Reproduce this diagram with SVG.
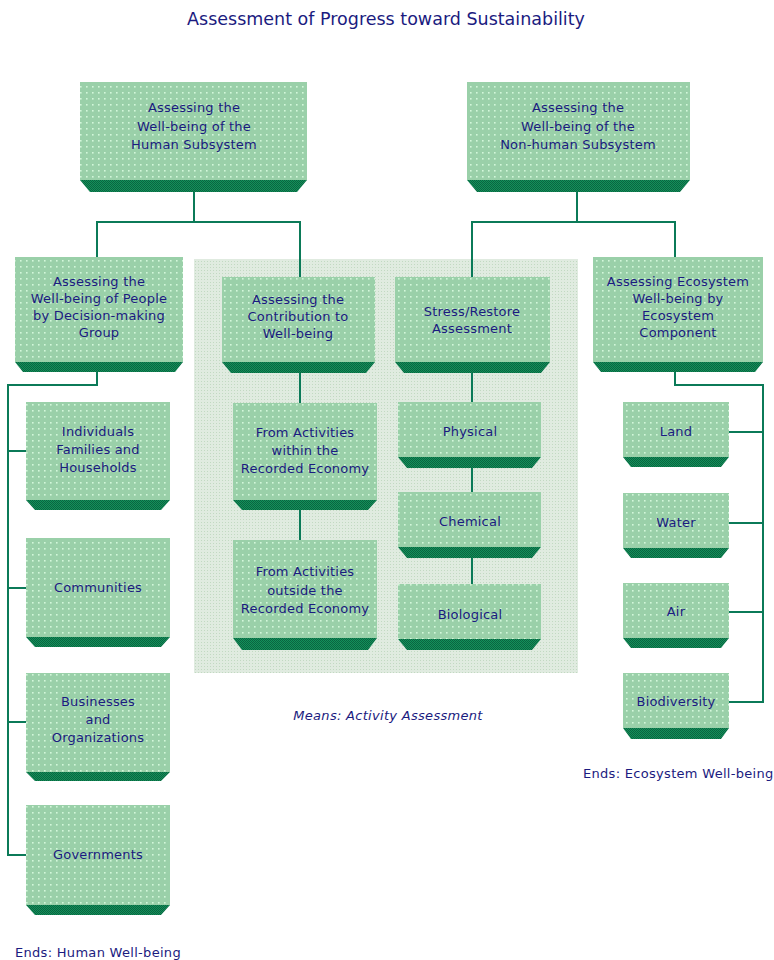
<svg xmlns="http://www.w3.org/2000/svg" width="774" height="960" viewBox="0 0 774 960">
  <defs>
    <!-- dotted light green box face -->
    <pattern id="face" width="6" height="6" patternUnits="userSpaceOnUse">
      <rect width="6" height="6" fill="#9ad0a9"/>
      <rect x="2" y="2" width="1.6" height="1.6" fill="#d2f7da"/>
    </pattern>
    <!-- checkered dark green base -->
    <pattern id="base" width="2" height="2" patternUnits="userSpaceOnUse">
      <rect width="2" height="2" fill="#13905a"/>
      <rect width="1" height="1" fill="#0a6440"/>
      <rect x="1" y="1" width="1" height="1" fill="#0a6440"/>
    </pattern>
    <!-- light stippled panel -->
    <pattern id="panel" width="3" height="3" patternUnits="userSpaceOnUse">
      <rect width="3" height="3" fill="#e0ebe0"/>
      <rect width="1" height="1" fill="#c2d9c2"/>
    </pattern>
  </defs>
  <style>
    .face { fill: url(#face); }
    .base { fill: url(#base); }
    .t { font-family: "DejaVu Sans", "Liberation Sans", sans-serif; font-size: 13px; letter-spacing: 0.2px; fill: #1b1b80; text-anchor: middle; }
    .title { font-family: "DejaVu Sans", "Liberation Sans", sans-serif; font-size: 17.5px; fill: #1b1b80; text-anchor: middle; }
    .lbl { font-family: "DejaVu Sans", "Liberation Sans", sans-serif; font-size: 13px; letter-spacing: 0.3px; fill: #1b1b80; }
    .conn { stroke: #0b7a58; stroke-width: 2; fill: none; }
  </style>

  <rect width="774" height="960" fill="#ffffff"/>

  <text class="title" x="386" y="25">Assessment of Progress toward Sustainability</text>

  <!-- means panel -->
  <rect id="means-panel" x="194" y="259" width="384" height="414" fill="url(#panel)"/>

  <!-- connectors -->
  <g id="connectors">
    <polyline class="conn" points="194,192 194,222"/>
    <polyline class="conn" points="97,257 97,222 300,222 300,277"/>
    <polyline class="conn" points="577,192 577,222"/>
    <polyline class="conn" points="472,277 472,222 675,222 675,257"/>
    <!-- human column -->
    <polyline class="conn" points="97,372 97,385 8,385 8,855 26,855"/>
    <line class="conn" x1="8" y1="451" x2="26" y2="451"/>
    <line class="conn" x1="8" y1="588" x2="26" y2="588"/>
    <line class="conn" x1="8" y1="722" x2="26" y2="722"/>
    <!-- contribution column -->
    <line class="conn" x1="300" y1="373" x2="300" y2="403"/>
    <line class="conn" x1="300" y1="510" x2="300" y2="540"/>
    <!-- stress column -->
    <line class="conn" x1="472" y1="373" x2="472" y2="402"/>
    <line class="conn" x1="472" y1="468" x2="472" y2="492"/>
    <line class="conn" x1="472" y1="558" x2="472" y2="584"/>
    <!-- ecosystem column -->
    <polyline class="conn" points="675,372 675,385 763,385 763,702 729,702"/>
    <line class="conn" x1="729" y1="432" x2="763" y2="432"/>
    <line class="conn" x1="729" y1="523" x2="763" y2="523"/>
    <line class="conn" x1="729" y1="612" x2="763" y2="612"/>
  </g>

  <!-- top level -->
  <g id="human-subsystem">
    <rect class="face" x="80" y="82" width="227" height="98"/>
    <polygon class="base" points="80,180 307,180 297,192 90,192"/>
    <text class="t" x="194" y="112">Assessing the</text>
    <text class="t" x="194" y="131">Well-being of the</text>
    <text class="t" x="194" y="149">Human Subsystem</text>
  </g>
  <g id="nonhuman-subsystem">
    <rect class="face" x="467" y="82" width="223" height="98"/>
    <polygon class="base" points="467,180 690,180 680,192 477,192"/>
    <text class="t" x="578" y="112">Assessing the</text>
    <text class="t" x="578" y="131">Well-being of the</text>
    <text class="t" x="578" y="149">Non-human Subsystem</text>
  </g>

  <!-- second level -->
  <g id="people">
    <rect class="face" x="15" y="257" width="168" height="105"/>
    <polygon class="base" points="15,362 183,362 175,372 23,372"/>
    <text class="t" x="99" y="286">Assessing the</text>
    <text class="t" x="99" y="303">Well-being of People</text>
    <text class="t" x="99" y="320">by Decision-making</text>
    <text class="t" x="99" y="337">Group</text>
  </g>
  <g id="contribution">
    <rect class="face" x="222" y="277" width="153" height="85"/>
    <polygon class="base" points="222,362 375,362 366,373 231,373"/>
    <text class="t" x="298" y="304">Assessing the</text>
    <text class="t" x="298" y="321">Contribution to</text>
    <text class="t" x="298" y="338">Well-being</text>
  </g>
  <g id="stress-restore">
    <rect class="face" x="395" y="277" width="155" height="85"/>
    <polygon class="base" points="395,362 550,362 541,373 404,373"/>
    <text class="t" x="472" y="316">Stress/Restore</text>
    <text class="t" x="472" y="333">Assessment</text>
  </g>
  <g id="ecosystem">
    <rect class="face" x="593" y="257" width="170" height="105"/>
    <polygon class="base" points="593,362 763,362 755,372 601,372"/>
    <text class="t" x="678" y="286">Assessing Ecosystem</text>
    <text class="t" x="678" y="303">Well-being by</text>
    <text class="t" x="678" y="320">Ecosystem</text>
    <text class="t" x="678" y="337">Component</text>
  </g>

  <!-- human column -->
  <g id="individuals">
    <rect class="face" x="26" y="402" width="144" height="98"/>
    <polygon class="base" points="26,500 170,500 161,510 35,510"/>
    <text class="t" x="98" y="436">Individuals</text>
    <text class="t" x="98" y="454">Families and</text>
    <text class="t" x="98" y="472">Households</text>
  </g>
  <g id="communities">
    <rect class="face" x="26" y="538" width="144" height="99"/>
    <polygon class="base" points="26,637 170,637 161,647 35,647"/>
    <text class="t" x="98" y="592">Communities</text>
  </g>
  <g id="businesses">
    <rect class="face" x="26" y="673" width="144" height="99"/>
    <polygon class="base" points="26,772 170,772 161,781 35,781"/>
    <text class="t" x="98" y="706">Businesses</text>
    <text class="t" x="98" y="724">and</text>
    <text class="t" x="98" y="742">Organizations</text>
  </g>
  <g id="governments">
    <rect class="face" x="26" y="805" width="144" height="100"/>
    <polygon class="base" points="26,905 170,905 161,915 35,915"/>
    <text class="t" x="98" y="859">Governments</text>
  </g>

  <!-- contribution column -->
  <g id="within-economy">
    <rect class="face" x="233" y="403" width="144" height="97"/>
    <polygon class="base" points="233,500 377,500 368,510 242,510"/>
    <text class="t" x="305" y="437">From Activities</text>
    <text class="t" x="305" y="455">within the</text>
    <text class="t" x="305" y="473">Recorded Economy</text>
  </g>
  <g id="outside-economy">
    <rect class="face" x="233" y="540" width="144" height="98"/>
    <polygon class="base" points="233,638 377,638 368,650 242,650"/>
    <text class="t" x="305" y="576">From Activities</text>
    <text class="t" x="305" y="595">outside the</text>
    <text class="t" x="305" y="613">Recorded Economy</text>
  </g>

  <!-- stress column -->
  <g id="physical">
    <rect class="face" x="398" y="402" width="143" height="55"/>
    <polygon class="base" points="398,457 541,457 532,468 407,468"/>
    <text class="t" x="470" y="436">Physical</text>
  </g>
  <g id="chemical">
    <rect class="face" x="398" y="492" width="143" height="55"/>
    <polygon class="base" points="398,547 541,547 532,558 407,558"/>
    <text class="t" x="470" y="526">Chemical</text>
  </g>
  <g id="biological">
    <rect class="face" x="398" y="584" width="143" height="55"/>
    <polygon class="base" points="398,639 541,639 532,650 407,650"/>
    <text class="t" x="470" y="619">Biological</text>
  </g>

  <!-- ecosystem column -->
  <g id="land">
    <rect class="face" x="623" y="402" width="106" height="55"/>
    <polygon class="base" points="623,457 729,457 721,467 631,467"/>
    <text class="t" x="676" y="436">Land</text>
  </g>
  <g id="water">
    <rect class="face" x="623" y="493" width="106" height="55"/>
    <polygon class="base" points="623,548 729,548 721,558 631,558"/>
    <text class="t" x="676" y="527">Water</text>
  </g>
  <g id="air">
    <rect class="face" x="623" y="583" width="106" height="55"/>
    <polygon class="base" points="623,638 729,638 721,648 631,648"/>
    <text class="t" x="676" y="616">Air</text>
  </g>
  <g id="biodiversity">
    <rect class="face" x="623" y="673" width="106" height="55"/>
    <polygon class="base" points="623,728 729,728 721,739 631,739"/>
    <text class="t" x="676" y="706">Biodiversity</text>
  </g>

  <!-- captions -->
  <text class="lbl" x="388" y="720" text-anchor="middle" font-style="italic">Means: Activity Assessment</text>
  <text class="lbl" x="583" y="778">Ends: Ecosystem Well-being</text>
  <text class="lbl" x="15" y="957">Ends: Human Well-being</text>
</svg>
